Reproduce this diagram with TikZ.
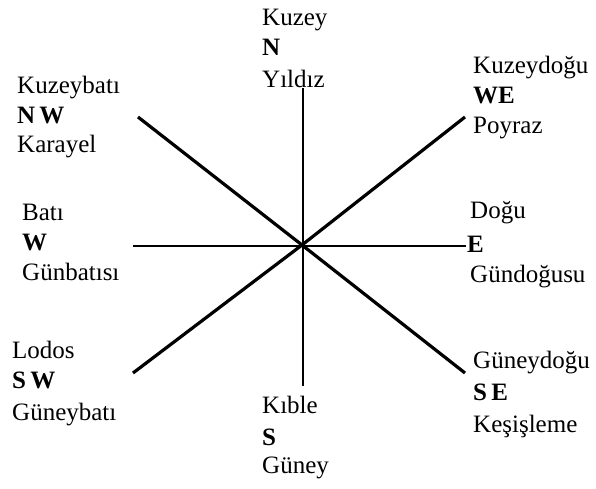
\documentclass[tikz,border=0pt]{standalone}
\usepackage{fontspec}
\setmainfont{Liberation Serif}
\begin{document}
\begin{tikzpicture}[x=1pt,y=-1pt,
  lbl/.style={anchor=base west,inner sep=0pt,font=\fontsize{25}{30}\selectfont},
  blbl/.style={lbl,font=\fontsize{25}{30}\selectfont\bfseries},
  diag/.style={line width=3.2pt},
  axis/.style={line width=2.2pt}]
\useasboundingbox (0,0) rectangle (596,488);
\coordinate (c) at (302,245);
\coordinate (nw) at (138,117);
\coordinate (ne) at (465,117);
\coordinate (sw) at (133,373);
\coordinate (se) at (465,373);
\coordinate (nt) at (303,88);
\coordinate (sb) at (303,386);
\coordinate (wl) at (133,246);
\coordinate (er) at (466,246);
\draw[diag] (nw) -- (c) -- (se);
\draw[diag] (sw) -- (c) -- (ne);
\draw[axis] (nt) -- (sb);
\draw[axis] (wl) -- (er);
% North
\node[lbl] (n1) at (262,25) {Kuzey};
\node[blbl] (n2) at (262,55) {N};
\node[lbl] (n3) at (262,87) {Yıldız};
% North-west
\node[lbl] (nw1) at (17,93) {Kuzeybatı};
\node[blbl] (nw2) at (17,123) {N\,W};
\node[lbl] (nw3) at (17,152) {Karayel};
% North-east
\node[lbl] (ne1) at (473,73) {Kuzeydoğu};
\node[blbl] (ne2) at (473,103) {WE};
\node[lbl] (ne3) at (473,133) {Poyraz};
% West
\node[lbl] (w1) at (22,220) {Batı};
\node[blbl] (w2) at (22,250) {W};
\node[lbl] (w3) at (22,280) {Günbatısı};
% East
\node[lbl] (e1) at (470,218) {Doğu};
\node[blbl] (e2) at (467,252) {E};
\node[lbl] (e3) at (470,282) {Gündoğusu};
% South-west
\node[lbl] (sw1) at (12,358) {Lodos};
\node[blbl] (sw2) at (12,388) {S\,W};
\node[lbl] (sw3) at (12,420) {Güneybatı};
% South
\node[lbl] (s1) at (262,413) {Kıble};
\node[blbl] (s2) at (262,445) {S};
\node[lbl] (s3) at (262,473) {Güney};
% South-east
\node[lbl] (se1) at (473,368) {Güneydoğu};
\node[blbl] (se2) at (473,400) {S\,E};
\node[lbl] (se3) at (473,432) {Keşişleme};
\end{tikzpicture}
\end{document}
